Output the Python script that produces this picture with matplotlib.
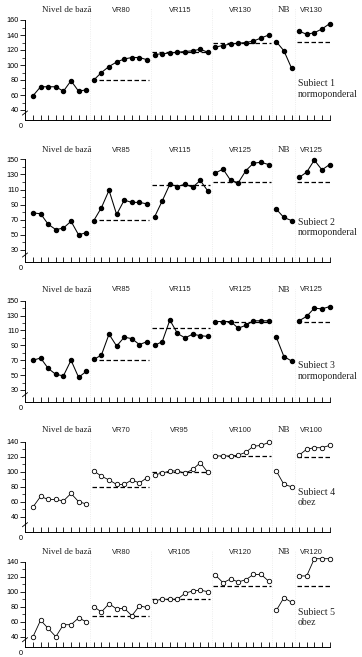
import numpy as np
import matplotlib.pyplot as plt
from matplotlib.ticker import FixedLocator

# ---- data ----
names_1 = ['Nivel de bază', 'VR80', 'VR115', 'VR130', 'NB', 'VR130']
s1_base = [59, 71, 71, 71, 65, 79, 65, 67]
s1_vr1 = [80, 90, 98, 104, 108, 110, 110, 107]
s1_vr2 = [114, 115, 116, 117, 118, 119, 121, 117]
s1_vr3 = [124, 126, 128, 129, 130, 132, 136, 140]
s1_nb = [131, 119, 96]
s1_vr4 = [145, 141, 143, 148, 155]
refs_1 = [None, 80, 117, 130, None, 131]

names_2 = ['Nivel de bază', 'VR85', 'VR115', 'VR125', 'NB', 'VR125']
s2_base = [79, 78, 64, 57, 59, 68, 50, 53]
s2_vr1 = [69, 86, 109, 77, 96, 93, 93, 91]
s2_vr2 = [74, 95, 117, 114, 117, 113, 122, 108]
s2_vr3 = [132, 137, 122, 119, 135, 145, 146, 143]
s2_nb = [84, 73, 69]
s2_vr4 = [126, 133, 149, 136, 143]
refs_2 = [None, 70, 116, 120, None, 120]

names_3 = ['Nivel de bază', 'VR85', 'VR115', 'VR125', 'NB', 'VR125']
s3_base = [70, 73, 59, 51, 49, 70, 47, 55]
s3_vr1 = [71, 77, 105, 89, 101, 99, 91, 95]
s3_vr2 = [90, 95, 124, 106, 100, 105, 103, 102]
s3_vr3 = [122, 122, 122, 113, 117, 123, 123, 123]
s3_nb = [101, 75, 69]
s3_vr4 = [123, 129, 140, 139, 142]
refs_3 = [None, 70, 113, 121, None, 122]

names_4 = ['Nivel de bază', 'VR70', 'VR95', 'VR100', 'NB', 'VR100']
s4_base = [53, 67, 63, 63, 61, 71, 60, 57]
s4_vr1 = [101, 94, 89, 83, 83, 89, 85, 92]
s4_vr2 = [96, 98, 101, 101, 98, 103, 112, 99]
s4_vr3 = [121, 121, 121, 122, 126, 134, 135, 139]
s4_nb = [101, 83, 80]
s4_vr4 = [122, 130, 132, 132, 135]
refs_4 = [None, 80, 100, 121, None, 120]

names_5 = ['Nivel de bază', 'VR80', 'VR105', 'VR120', 'NB', 'VR120']
s5_base = [40, 62, 51, 40, 56, 56, 65, 60]
s5_vr1 = [80, 73, 84, 77, 78, 68, 81, 79]
s5_vr2 = [88, 90, 90, 90, 98, 101, 102, 100]
s5_vr3 = [122, 112, 117, 113, 116, 123, 123, 114]
s5_nb = [75, 92, 86]
s5_vr4 = [121, 121, 144, 144, 144]
refs_5 = [None, 68, 90, 107, None, 107]

notes = ['Subiect 1\nnormoponderal', 'Subiect 2\nnormoponderal',
         'Subiect 3\nnormoponderal', 'Subiect 4\nobez', 'Subiect 5\nobez']

# ---- layout (pixels) ----
W, H = 362, 657
L, R = 25, 345
XPX0, XSTEP = 33, 7.603
X0 = -(XPX0 - L) / XSTEP
X1 = (R - XPX0) / XSTEP
# top tick value, its px, low tick value, its px, x-axis px, label px, note px
layouts = [
    (160, 20, 40, 110, 120, 10, 89),
    (150, 159.3, 30, 250, 262, 150, 227.5),
    (150, 300.7, 30, 390, 401.7, 289.5, 371),
    (140, 441.7, 40, 516.7, 531.7, 430.5, 497.5),
    (140, 561.7, 40, 636.7, 646.7, 552.5, 617.5),
]
label_pos = [4.4, 11.6, 19.3, 27.3, 33.0, 36.6]

serif = 'Liberation Serif'
sans = 'Liberation Sans'


def draw_panel(fig, segs, refs, names, note, lay, hollow):
    top_val, top_px, low_val, low_px, bot_px, lab_px, note_px = lay
    k = (low_px - top_px) / (top_val - low_val)
    T = top_px - 12
    ax = fig.add_axes([L / W, 1 - bot_px / H, (R - L) / W, (bot_px - T) / H])
    y0 = low_val - (bot_px - low_px) / k
    y1 = top_val + (top_px - T) / k
    ax.set_xlim(X0, X1)
    ax.patch.set_alpha(0)

    start = 0
    for i, seg in enumerate(segs):
        x = np.arange(start, start + len(seg))
        if hollow:
            ax.plot(x, seg, '-o', color='black', lw=0.6, ms=3.2, mfc='white',
                    mec='black', mew=0.6, zorder=3)
        else:
            ax.plot(x, seg, '-o', color='black', lw=0.75, ms=2.9, zorder=3)
        if refs[i] is not None:
            ax.plot([x[0] - 0.3, x[-1] + 0.3], [refs[i], refs[i]], color='black',
                    lw=0.9, dashes=(3.6, 2.0), zorder=2)
        if i > 0:
            ax.axvline(start - 0.5, color='#e8e8e8', lw=0.6, ls=':', zorder=1)
        is_serif = names[i] in ('Nivel de bază', 'NB')
        ax.annotate(names[i], xy=(label_pos[i], H - lab_px),
                    xycoords=('data', 'figure pixels'), ha='center', va='center',
                    fontsize=6.5 if is_serif else 5.4,
                    family=serif if is_serif else sans,
                    color='#222222',
                    annotation_clip=False)
        start += len(seg)

    fig.text(298 / W, 1 - note_px / H, note, fontsize=7, family=serif,
             ha='left', va='center', linespacing=1.2, color='#222222')

    for s in ['top', 'right']:
        ax.spines[s].set_visible(False)
    ax.spines['left'].set_bounds(y0, top_val)
    ax.spines['bottom'].set_bounds(X0, start - 1)
    for s in ['left', 'bottom']:
        ax.spines[s].set_linewidth(0.7)

    ax.set_yticks(np.arange(low_val, top_val + 1, 20))
    ax.yaxis.set_minor_locator(FixedLocator(np.arange(low_val + 10, top_val, 20)))
    ax.set_ylim(y0, y1)
    ax.tick_params(axis='y', which='major', direction='out', length=3.5,
                   width=0.6, labelsize=5.2, pad=1)
    ax.tick_params(axis='y', which='minor', direction='out', length=2,
                   width=0.5)
    for t in ax.get_yticklabels():
        t.set_family(sans)
    ax.set_xticks(np.arange(start))
    ax.set_xticklabels([])
    ax.tick_params(axis='x', direction='in', length=3.5, width=0.6)

    # axis break mark near the origin
    fx = 1 / (R - L)
    fy = 1 / (bot_px - T)
    ax.plot([-2.5 * fx, 2.5 * fx], [5 * fy, 9 * fy], transform=ax.transAxes,
            color='black', lw=0.6, clip_on=False)
    fig.text(21 / W, 1 - (bot_px + 7) / H, '0', fontsize=5.2, family=sans,
             ha='center', va='center')
    return ax


fig = plt.figure(figsize=(W / 100, H / 100), dpi=100)

panels = [
    ([s1_base, s1_vr1, s1_vr2, s1_vr3, s1_nb, s1_vr4], refs_1, names_1, False),
    ([s2_base, s2_vr1, s2_vr2, s2_vr3, s2_nb, s2_vr4], refs_2, names_2, False),
    ([s3_base, s3_vr1, s3_vr2, s3_vr3, s3_nb, s3_vr4], refs_3, names_3, False),
    ([s4_base, s4_vr1, s4_vr2, s4_vr3, s4_nb, s4_vr4], refs_4, names_4, True),
    ([s5_base, s5_vr1, s5_vr2, s5_vr3, s5_nb, s5_vr4], refs_5, names_5, True),
]

for p, (segs, refs, names, hollow) in enumerate(panels):
    draw_panel(fig, segs, refs, names, notes[p], layouts[p], hollow)

fig.savefig('out.png', dpi=100)
